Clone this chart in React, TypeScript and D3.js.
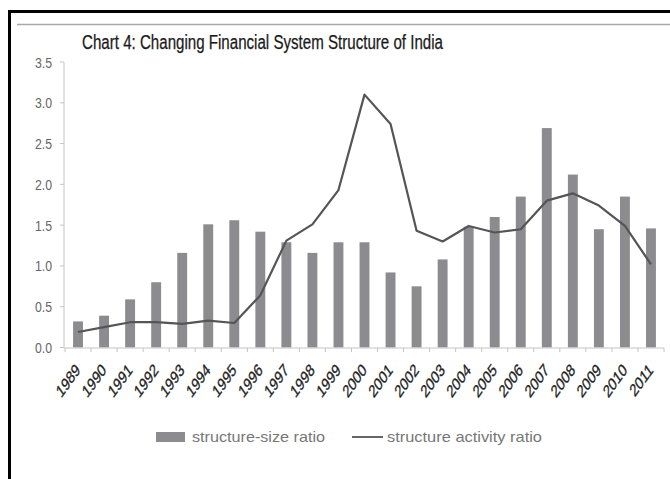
import React from "react";
import * as d3 from "d3";

const years = ["1989","1990","1991","1992","1993","1994","1995","1996","1997","1998","1999","2000","2001","2002","2003","2004","2005","2006","2007","2008","2009","2010","2011"];
const sizeRatio = [0.32,0.39,0.59,0.80,1.16,1.51,1.56,1.42,1.29,1.16,1.29,1.29,0.92,0.75,1.08,1.48,1.60,1.85,2.69,2.12,1.45,1.85,1.46];
const activityRatio = [0.19,0.25,0.31,0.31,0.29,0.33,0.30,0.64,1.31,1.51,1.93,3.10,2.74,1.43,1.30,1.49,1.41,1.45,1.80,1.89,1.74,1.49,1.02];
const yTicks = [0, 0.5, 1.0, 1.5, 2.0, 2.5, 3.0, 3.5];
const title = "Chart 4: Changing Financial System Structure of India";
const legendLabels = ["structure-size ratio", "structure activity ratio"];

export default function App() {
  const W = 670, H = 479;
  const x = d3.scaleBand<string>().domain(years).range([65, 664]);
  const y = d3.scaleLinear().domain([0, 3.5]).range([347.5, 62]);
  const bw = x.bandwidth() * 0.38;
  const cx = (yr: string) => (x(yr) as number) + x.bandwidth() / 2;
  const line = d3.line<number>()
    .x((_, i) => cx(years[i]))
    .y((d) => y(d));
  const font = "'Liberation Sans', Arial, sans-serif";
  const bounds = [...years.map((yr) => x(yr) as number), 664];
  return (
    <svg width={W} height={H} style={{ position: "absolute", left: 0, top: 0, background: "#fff" }} fontFamily={font}>
      <rect x={0} y={0} width={W} height={H} fill="#fff" />
      {/* border */}
      <line x1={9.5} y1={10} x2={9.5} y2={H} stroke="#000" strokeWidth={3} />
      <line x1={8} y1={11.5} x2={W} y2={11.5} stroke="#000" strokeWidth={3} />
      <line x1={17} y1={24.5} x2={W} y2={24.5} stroke="#a8a8a8" strokeWidth={1.5} />
      {/* title */}
      <text x={82} y={48.5} fontSize={19.5} fill="#1a1a1a" stroke="#1a1a1a" strokeWidth={0.25} textLength={361} lengthAdjust="spacingAndGlyphs">{title}</text>
      {/* y axis */}
      <line x1={64} y1={y(3.5)} x2={64} y2={y(0)} stroke="#c4c4c4" strokeWidth={1} />
      {yTicks.map((t) => (
        <g key={t}>
          <line x1={60} x2={64} y1={y(t)} y2={y(t)} stroke="#c4c4c4" />
          <text transform={`translate(52,${y(t) + 5.5}) scale(0.82,1)`} textAnchor="end" fontSize={15} fill="#666">{t.toFixed(1)}</text>
        </g>
      ))}
      {/* bars */}
      {sizeRatio.map((v, i) => (
        <rect key={years[i]} x={cx(years[i]) - bw / 2} y={y(v)} width={bw} height={y(0) - y(v)} fill="#8c8c90" />
      ))}
      {/* x axis */}
      <line x1={64} y1={348} x2={664} y2={348} stroke="#c4c4c4" strokeWidth={1} />
      {bounds.map((b, i) => (
        <line key={i} x1={b} x2={b} y1={348} y2={352} stroke="#c4c4c4" />
      ))}
      {/* line */}
      <path d={line(activityRatio) || ""} fill="none" stroke="#555" strokeWidth={2.2} strokeLinejoin="round" />
      {/* x labels */}
      {years.map((yr) => (
        <text key={yr} transform={`translate(${cx(yr) + 3},371) scale(0.72,1) rotate(-45)`} textAnchor="end" fontSize={17.5} fill="#222" stroke="#222" strokeWidth={0.35}>{yr}</text>
      ))}
      {/* legend */}
      <rect x={156} y={432} width={29} height={10} fill="#8c8c90" />
      <text x={192} y={442} fontSize={15} fill="#777" textLength={133} lengthAdjust="spacingAndGlyphs">{legendLabels[0]}</text>
      <line x1={352} x2={383} y1={437} y2={437} stroke="#666" strokeWidth={2} />
      <text x={387} y={442} fontSize={15} fill="#777" textLength={155} lengthAdjust="spacingAndGlyphs">{legendLabels[1]}</text>
    </svg>
  );
}
